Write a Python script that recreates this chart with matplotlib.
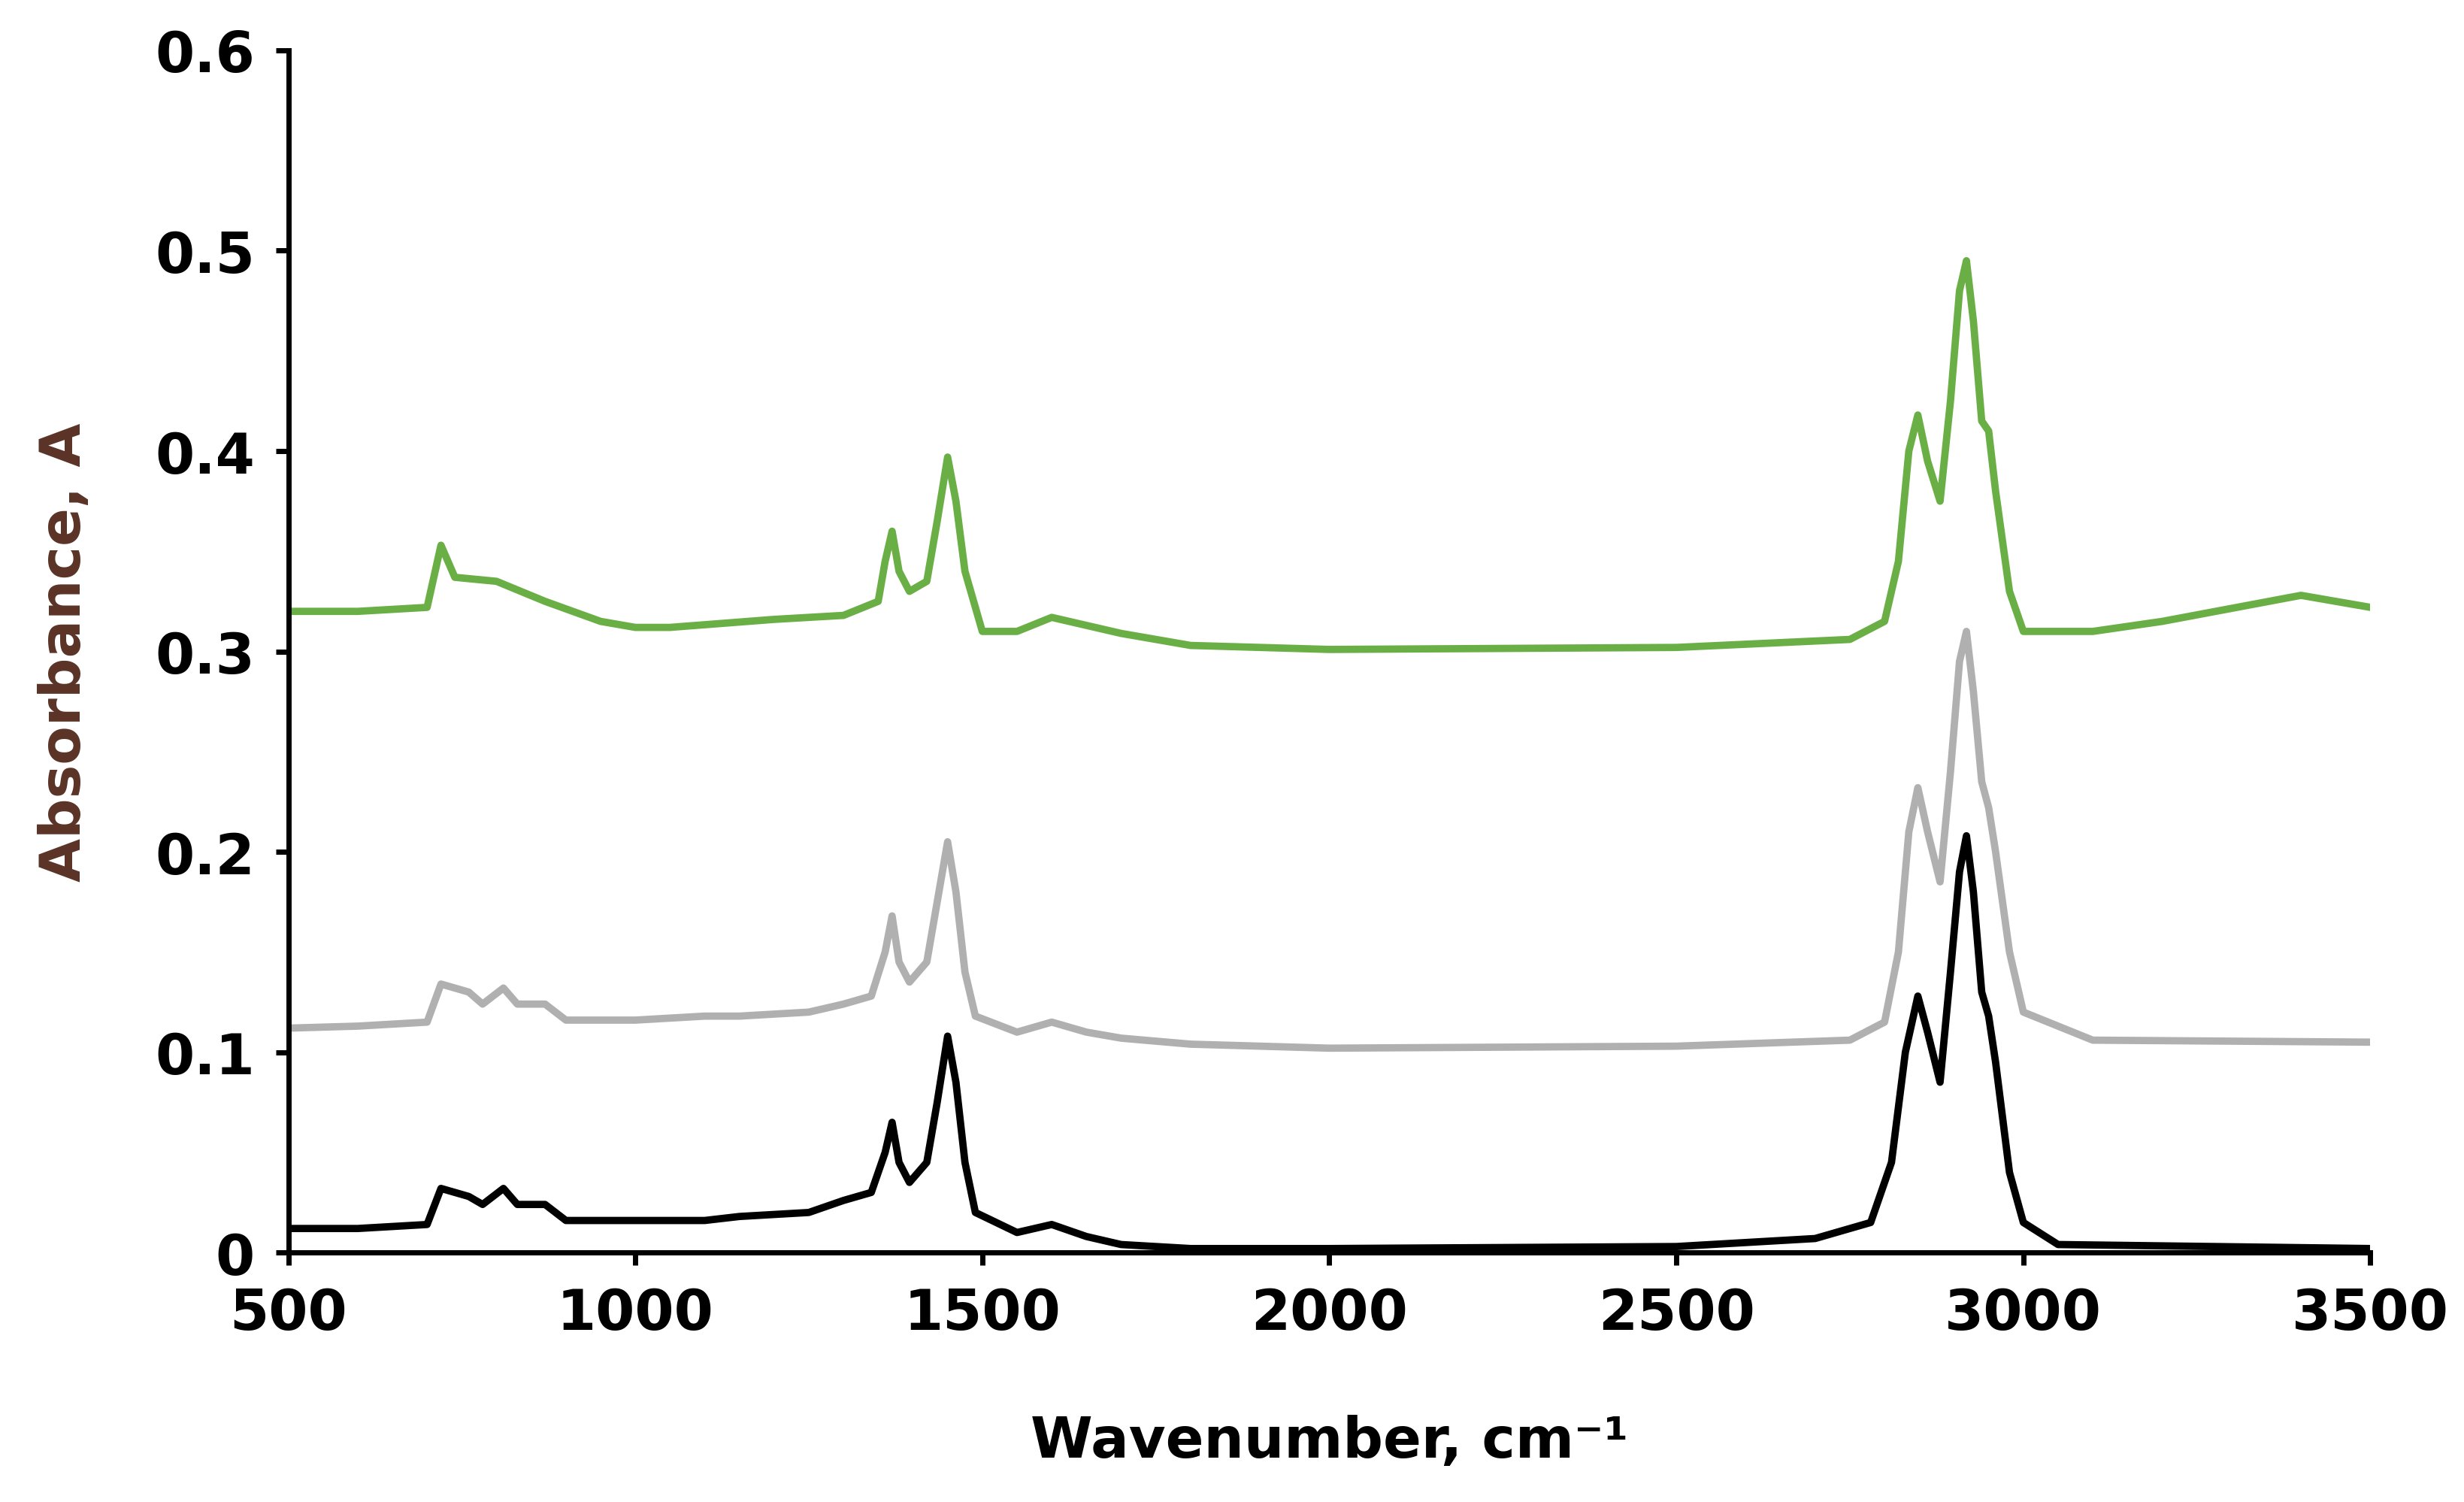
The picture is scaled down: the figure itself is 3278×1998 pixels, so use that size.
import matplotlib
matplotlib.use("Agg")
import matplotlib.pyplot as plt

wn_black = [500,600,700,720,740,760,780,810,830,870,900,1000,1100,1150,1250,1300,1340,1360,1370,1380,1395,1420,1435,1450,1462,1475,1490,1550,1600,1650,1700,1800,2000,2500,2700,2780,2810,2830,2848,2862,2880,2895,2908,2918,2928,2940,2950,2960,2980,3000,3050,3500]
ab_black = [0.012,0.012,0.014,0.032,0.030,0.028,0.024,0.032,0.024,0.024,0.016,0.016,0.016,0.018,0.020,0.026,0.030,0.050,0.065,0.045,0.035,0.045,0.075,0.108,0.085,0.045,0.020,0.010,0.014,0.008,0.004,0.002,0.002,0.003,0.007,0.015,0.045,0.100,0.128,0.110,0.085,0.140,0.190,0.208,0.180,0.130,0.118,0.095,0.040,0.015,0.004,0.002]

wn_gray = [500,600,700,720,760,780,810,830,870,900,1000,1100,1150,1250,1300,1340,1360,1370,1380,1395,1420,1435,1450,1462,1475,1490,1550,1600,1650,1700,1800,2000,2500,2750,2800,2820,2835,2848,2862,2880,2895,2908,2918,2928,2940,2950,2960,2980,3000,3100,3500]
ab_gray = [0.112,0.113,0.115,0.134,0.130,0.124,0.132,0.124,0.124,0.116,0.116,0.118,0.118,0.120,0.124,0.128,0.150,0.168,0.145,0.135,0.145,0.175,0.205,0.180,0.140,0.118,0.110,0.115,0.110,0.107,0.104,0.102,0.103,0.106,0.115,0.150,0.210,0.232,0.210,0.185,0.240,0.295,0.310,0.280,0.235,0.222,0.200,0.150,0.120,0.106,0.105]

wn_green = [500,600,700,720,740,800,870,950,1000,1050,1200,1300,1350,1360,1370,1380,1395,1420,1435,1450,1462,1475,1500,1550,1600,1700,1800,2000,2500,2750,2800,2820,2835,2848,2862,2880,2895,2908,2918,2928,2940,2950,2960,2980,3000,3100,3200,3400,3500]
ab_green = [0.320,0.320,0.322,0.353,0.337,0.335,0.325,0.315,0.312,0.312,0.316,0.318,0.325,0.345,0.360,0.340,0.330,0.335,0.365,0.397,0.375,0.340,0.310,0.310,0.317,0.309,0.303,0.301,0.302,0.306,0.315,0.345,0.400,0.418,0.395,0.375,0.425,0.480,0.495,0.465,0.415,0.410,0.380,0.330,0.310,0.310,0.315,0.328,0.322]

xticks = [500,1000,1500,2000,2500,3000,3500]
yticks = [0,0.1,0.2,0.3,0.4,0.5,0.6]
ytick_labels = ["0","0.1","0.2","0.3","0.4","0.5","0.6"]

fig = plt.figure(figsize=(32.78,19.99), dpi=100)
ax = fig.add_axes([0.117,0.166,0.845,0.8])
ax.plot(wn_black, ab_black, color="black", lw=7)
ax.plot(wn_gray, ab_gray, color="#b0b0b0", lw=7)
ax.plot(wn_green, ab_green, color="#6aaf45", lw=7)
ax.set_xlim(500,3500)
ax.set_ylim(0,0.6)
ax.set_xticks(xticks)
ax.set_yticks(yticks)
ax.set_yticklabels(ytick_labels)
for s in ["top","right"]:
    ax.spines[s].set_visible(False)
for s in ["left","bottom"]:
    ax.spines[s].set_linewidth(5)
ax.tick_params(labelsize=54, width=5, length=12, pad=20)
for t in ax.get_xticklabels()+ax.get_yticklabels():
    t.set_fontweight("heavy")
ax.set_xlabel("Wavenumber, cm\u207b\u00b9", fontsize=54, fontweight="heavy", labelpad=70)
ax.set_ylabel("Absorbance, A", fontsize=54, fontweight="heavy", color="#5a3326", labelpad=60)
fig.savefig("out.png", dpi=100)
